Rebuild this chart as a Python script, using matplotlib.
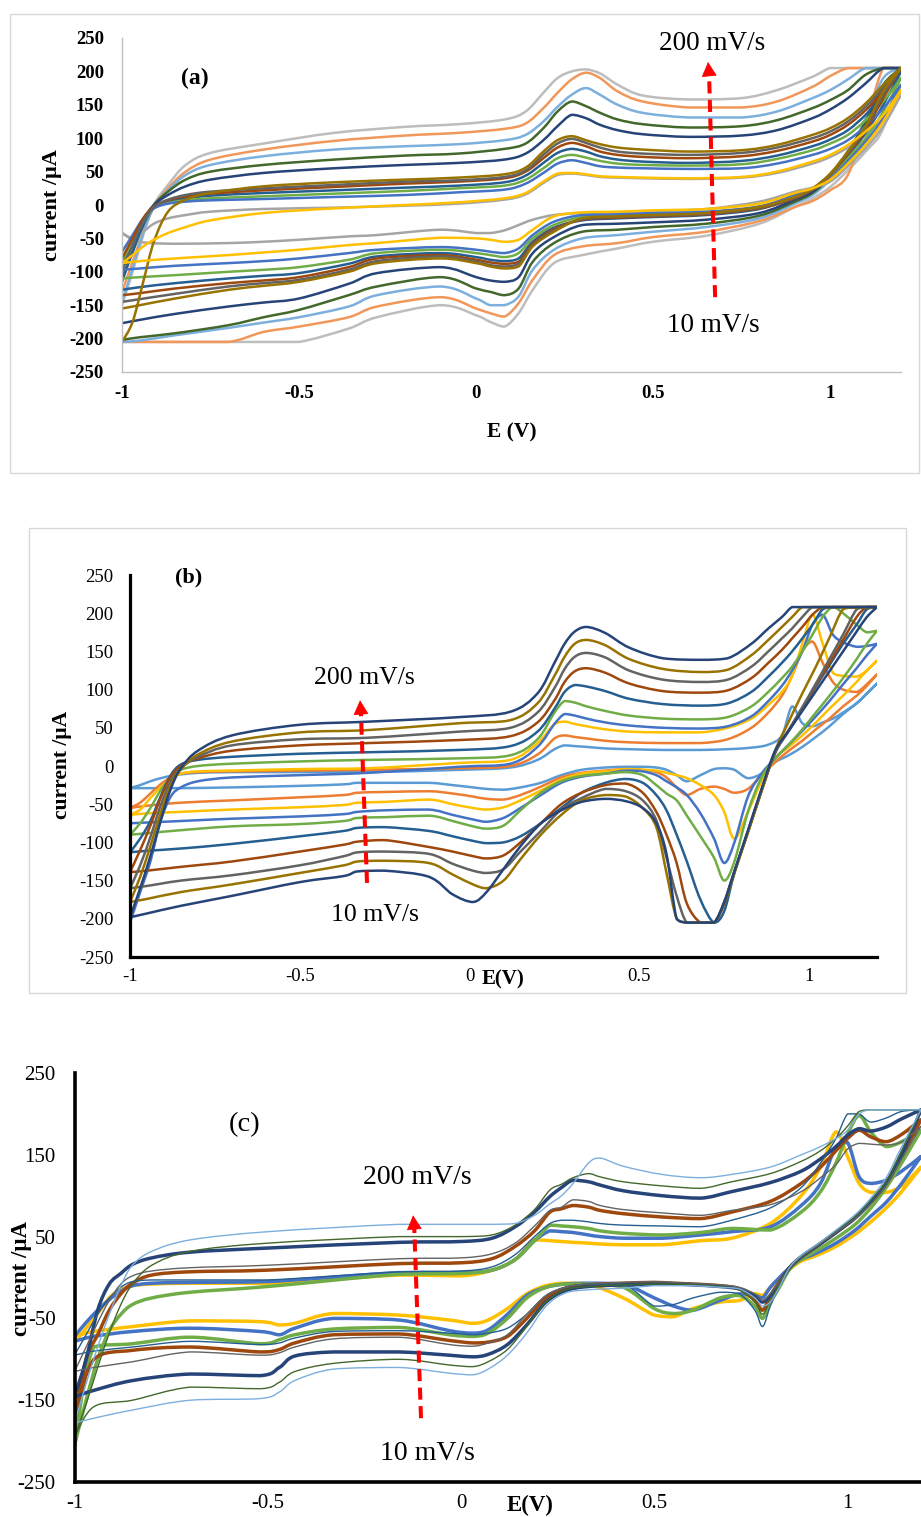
import numpy as np
import matplotlib
matplotlib.use('Agg')
from matplotlib import pyplot as plt
from matplotlib.patches import Rectangle, PathPatch
from matplotlib.path import Path

plt.rcParams['font.family'] = ['Liberation Serif', 'DejaVu Serif']

W, H = 921, 1517

# ---------------- panel (a): potential grids (V) and currents (uA) ----------------
a_e_fwd = [-1.0, -0.97, -0.94, -0.91, -0.87, -0.82, -0.75, -0.6, -0.4, -0.2, -0.05, 0.08, 0.14, 0.19, 0.23,
           0.27, 0.31, 0.35, 0.40, 0.47, 0.6, 0.75, 0.85, 0.95, 1.0, 1.05, 1.1, 1.15, 1.2]
a_e_rev = [1.2, 1.15, 1.1, 1.05, 1.0, 0.95, 0.9, 0.8, 0.65, 0.5, 0.4, 0.3, 0.22, 0.16, 0.12, 0.08, 0.04, 0.0,
           -0.1, -0.28, -0.36, -0.5, -0.6, -0.7, -0.85, -0.95, -1.0]

a_fwd_200 = [-150, -100, -45, 0, 30, 60, 78, 92, 108, 117, 121, 128, 140, 168, 190, 200, 203, 197, 180, 164, 158, 160, 172, 192, 205, 205, 205, 205, 205]
a_fwd_180 = [-130, -85, -40, -3, 25, 50, 68, 83, 96, 104, 108, 114, 122, 145, 168, 188, 198, 190, 170, 155, 146, 146, 155, 177, 193, 205, 205, 205, 205]
a_fwd_160 = [-145, -95, -42, -3, 22, 45, 60, 73, 83, 88, 91, 97, 105, 125, 147, 165, 175, 165, 150, 138, 131, 131, 140, 160, 172, 188, 205, 205, 205]
a_fwd_140 = [-110, -70, -30, 0, 20, 38, 50, 60, 68, 74, 77, 84, 92, 115, 140, 155, 148, 138, 128, 121, 116, 118, 127, 145, 157, 172, 195, 205, 205]
a_fwd_120 = [-90, -55, -22, 0, 15, 28, 38, 48, 55, 60, 63, 68, 77, 97, 118, 135, 130, 120, 112, 106, 102, 104, 112, 130, 143, 160, 182, 205, 205]
a_fwd_100 = [-205, -175, -115, -55, -10, 8, 18, 28, 34, 38, 41, 46, 56, 80, 97, 103, 97, 91, 86, 83, 80, 82, 90, 105, 115, 130, 152, 180, 205]
a_fwd_90 = [-100, -60, -25, -3, 8, 15, 20, 25, 30, 35, 37, 42, 52, 75, 92, 99, 93, 86, 80, 77, 75, 78, 86, 100, 110, 125, 147, 175, 205]
a_fwd_80 = [-80, -50, -20, -2, 7, 13, 17, 22, 27, 32, 35, 40, 50, 70, 86, 93, 88, 80, 75, 72, 70, 73, 81, 95, 105, 120, 142, 170, 205]
a_fwd_70 = [-115, -70, -30, -4, 5, 10, 14, 18, 22, 26, 29, 34, 44, 63, 78, 84, 80, 73, 68, 65, 63, 66, 74, 88, 98, 112, 135, 165, 200]
a_fwd_60 = [-85, -55, -25, -5, 3, 7, 10, 13, 17, 21, 25, 29, 38, 55, 70, 75, 71, 66, 62, 60, 59, 61, 69, 82, 92, 105, 127, 155, 190]
a_fwd_40 = [-70, -45, -20, -5, 2, 5, 7, 9, 12, 15, 19, 23, 32, 48, 62, 67, 63, 58, 56, 55, 54, 55, 62, 75, 84, 97, 118, 145, 180]
a_fwd_20 = [-87, -75, -62, -52, -42, -33, -23, -12, -5, 0, 4, 10, 18, 35, 47, 48, 46, 43, 42, 41, 40, 42, 50, 65, 75, 90, 110, 135, 172]
a_fwd_10 = [-42, -50, -40, -28, -20, -15, -10, -6, -4, -1, 2, 8, 16, 33, 45, 47, 45, 42, 41, 40, 39, 41, 48, 62, 72, 86, 105, 130, 165]

a_rev_200 = [205, 115, 80, 52, 27, 10, -3, -28, -46, -55, -65, -75, -87, -127, -162, -182, -175, -165, -150, -168, -185, -205, -205, -205, -205, -205, -205]
a_rev_180 = [205, 205, 120, 45, 22, 6, -3, -24, -40, -48, -57, -62, -75, -112, -147, -167, -162, -155, -138, -152, -168, -182, -190, -205, -205, -205, -205]
a_rev_160 = [205, 190, 130, 75, 38, 15, 2, -20, -33, -40, -45, -50, -67, -97, -137, -150, -150, -140, -122, -135, -152, -168, -176, -184, -195, -203, -205]
a_rev_140 = [205, 180, 125, 80, 42, 18, 5, -16, -28, -33, -37, -40, -57, -85, -125, -135, -130, -125, -108, -122, -135, -157, -168, -180, -192, -198, -202]
a_rev_120 = [205, 175, 120, 80, 45, 20, 8, -12, -22, -26, -28, -30, -48, -72, -108, -115, -113, -108, -93, -102, -118, -140, -146, -152, -163, -172, -177]
a_rev_100 = [205, 170, 118, 80, 47, 25, 12, -3, -12, -15, -17, -20, -40, -62, -92, -95, -92, -87, -80, -87, -100, -115, -121, -127, -140, -150, -155]
a_rev_90 = [205, 165, 115, 78, 46, 24, 11, -4, -13, -16, -18, -21, -38, -60, -88, -92, -90, -85, -77, -84, -97, -112, -117, -122, -133, -141, -145]
a_rev_80 = [205, 160, 112, 76, 45, 23, 10, -5, -14, -17, -19, -22, -36, -58, -85, -88, -86, -82, -75, -80, -93, -108, -113, -117, -125, -132, -135]
a_rev_70 = [200, 150, 108, 74, 44, 23, 12, -6, -15, -18, -20, -23, -34, -55, -80, -84, -82, -78, -72, -77, -88, -102, -106, -110, -117, -123, -127]
a_rev_60 = [190, 140, 100, 70, 42, 23, 13, -4, -12, -14, -16, -18, -30, -50, -72, -78, -75, -72, -67, -72, -82, -93, -97, -100, -105, -108, -110]
a_rev_40 = [180, 130, 95, 66, 40, 24, 15, -2, -10, -12, -14, -15, -25, -45, -65, -72, -70, -67, -63, -67, -72, -80, -84, -87, -91, -95, -97]
a_rev_20 = [172, 125, 90, 62, 38, 25, 18, 2, -6, -8, -10, -11, -17, -37, -52, -55, -52, -50, -49, -57, -60, -67, -71, -75, -80, -84, -87]
a_rev_10 = [165, 118, 85, 58, 35, 26, 20, 5, -6, -9, -11, -12, -15, -22, -30, -38, -42, -42, -37, -45, -47, -52, -55, -57, -58, -55, -42]

# ---------------- panel (b) ----------------
b_e_fwd = [-1.0, -0.97, -0.94, -0.91, -0.88, -0.85, -0.8, -0.7, -0.5, -0.3, -0.03, 0.12, 0.2, 0.25, 0.28, 0.31, 0.345,
           0.4, 0.47, 0.57, 0.68, 0.76, 0.83, 0.88, 0.92, 0.95, 0.98, 1.01, 1.04, 1.07, 1.1, 1.14, 1.17, 1.2]
b_e_rev = [1.2, 1.17, 1.14, 1.1, 1.06, 1.02, 0.98, 0.94, 0.9, 0.86, 0.82, 0.78, 0.75, 0.72, 0.68, 0.64, 0.61, 0.58,
           0.55, 0.51, 0.46, 0.4, 0.33, 0.27, 0.21, 0.15, 0.1, 0.05, 0.01, -0.05, -0.12, -0.25, -0.33, -0.37, -0.5,
           -0.7, -0.85, -0.95, -1.0]

b_fwd_200 = [-198, -160, -118, -72, -30, -3, 20, 40, 54, 58, 64, 71, 95, 135, 160, 176, 182, 174, 155, 141, 139, 141, 160, 180, 195, 208, 208, 208, 208, 208, 208, 208, 208, 208]
b_fwd_180 = [-178, -145, -105, -62, -25, -4, 15, 32, 44, 47, 56, 60, 82, 118, 143, 160, 165, 158, 140, 127, 123, 126, 145, 165, 182, 195, 208, 208, 208, 208, 208, 208, 208, 208]
b_fwd_160 = [-160, -130, -93, -52, -20, -3, 12, 27, 35, 37, 45, 50, 70, 102, 127, 143, 148, 142, 125, 113, 110, 113, 130, 150, 167, 180, 195, 208, 208, 208, 208, 208, 208, 208]
b_fwd_140 = [-139, -110, -78, -42, -14, 0, 10, 20, 27, 30, 34, 39, 57, 86, 110, 124, 128, 122, 108, 98, 96, 99, 115, 135, 152, 167, 182, 198, 208, 208, 208, 208, 208, 208]
b_fwd_120 = [-113, -95, -72, -40, -12, 2, 8, 12, 16, 18, 21, 26, 45, 75, 97, 106, 104, 98, 88, 81, 79, 82, 97, 117, 135, 150, 167, 185, 205, 208, 208, 208, 208, 208]
b_fwd_100 = [-90, -75, -55, -32, -15, -5, 0, 3, 6, 8, 10, 14, 35, 70, 85, 83, 78, 72, 66, 62, 61, 64, 78, 97, 115, 130, 150, 172, 195, 208, 200, 185, 175, 177]
b_fwd_80 = [-205, -165, -125, -72, -40, -28, -20, -15, -12, -9, -1, 3, 25, 55, 68, 66, 62, 57, 53, 50, 49, 52, 65, 85, 105, 125, 150, 185, 198, 172, 162, 156, 157, 160]
b_fwd_60 = [-64, -57, -42, -28, -17, -10, -7, -6, -4, -3, 4, 8, 30, 55, 58, 55, 52, 48, 45, 44, 44, 50, 62, 80, 97, 118, 160, 198, 160, 122, 118, 117, 125, 138]
b_fwd_40 = [-55, -48, -36, -24, -15, -10, -8, -7, -6, -5, -3, 0, 15, 36, 40, 38, 36, 33, 31, 30, 30, 35, 50, 70, 92, 118, 150, 163, 135, 110, 100, 97, 107, 120]
b_fwd_20 = [-29, -25, -20, -16, -13, -11, -9, -8, -8, -8, -5, -2, 8, 22, 27, 26, 25, 23, 22, 21, 21, 22, 24, 28, 40, 78, 56, 52, 57, 62, 70, 82, 95, 108]

b_rev_200 = [208, 195, 176, 150, 124, 98, 72, 46, 20, -30, -84, -138, -178, -205, -205, -205, -200, -115, -75, -55, -46, -43, -47, -58, -75, -105, -135, -165, -178, -168, -145, -137, -138, -144, -152, -170, -183, -193, -198]
b_rev_180 = [208, 208, 208, 205, 168, 130, 95, 58, 20, -33, -87, -140, -180, -205, -205, -205, -200, -140, -80, -55, -40, -38, -45, -64, -90, -122, -150, -160, -155, -142, -127, -124, -125, -130, -140, -155, -165, -174, -178]
b_rev_160 = [208, 208, 205, 172, 140, 108, 77, 47, 18, -32, -86, -138, -178, -205, -205, -205, -170, -120, -71, -45, -33, -30, -42, -57, -85, -112, -135, -140, -137, -128, -115, -112, -113, -118, -130, -143, -150, -157, -160]
b_rev_140 = [208, 208, 195, 165, 135, 106, 76, 47, 18, -32, -86, -138, -180, -205, -205, -180, -127, -90, -60, -35, -23, -25, -35, -50, -75, -100, -117, -121, -118, -112, -106, -97, -99, -103, -112, -125, -132, -137, -139]
b_rev_120 = [208, 205, 185, 160, 132, 104, 75, 46, 17, -32, -86, -140, -190, -205, -175, -125, -90, -58, -38, -22, -17, -22, -35, -55, -75, -92, -100, -101, -98, -92, -85, -80, -81, -85, -92, -102, -108, -111, -113]
b_rev_100 = [177, 160, 140, 115, 92, 70, 48, 28, 10, -15, -60, -125, -150, -120, -92, -65, -45, -36, -25, -12, -8, -10, -13, -20, -35, -58, -78, -82, -79, -72, -65, -67, -68, -72, -76, -79, -84, -88, -90]
b_rev_80 = [160, 145, 128, 107, 85, 65, 46, 28, 10, -10, -40, -100, -127, -95, -62, -38, -28, -20, -12, -7, -6, -10, -14, -22, -38, -55, -68, -73, -70, -64, -57, -58, -60, -63, -66, -69, -72, -74, -75]
b_rev_60 = [138, 125, 110, 92, 75, 57, 40, 25, 10, -20, -60, -95, -60, -38, -25, -16, -12, -9, -6, -5, -4, -7, -10, -18, -32, -45, -54, -57, -55, -50, -44, -47, -48, -51, -54, -57, -60, -62, -64]
b_rev_40 = [120, 105, 92, 78, 62, 48, 33, 20, 5, -12, -30, -35, -30, -27, -30, -38, -28, -15, -8, -5, -4, -6, -9, -15, -27, -38, -44, -43, -40, -36, -33, -34, -35, -38, -41, -45, -48, -52, -55]
b_rev_20 = [108, 95, 82, 68, 52, 38, 25, 14, 5, -10, -16, -5, -3, -4, -12, -20, -12, -5, -2, -1, -1, -2, -5, -12, -22, -28, -31, -30, -28, -25, -22, -22, -22, -24, -26, -28, -29, -29, -29]

# ---------------- panel (c) ----------------
c_e_fwd = [-1.0, -0.97, -0.94, -0.91, -0.88, -0.85, -0.8, -0.7, -0.5, -0.16, 0.0, 0.08, 0.14, 0.19, 0.23, 0.26,
           0.29, 0.33, 0.36, 0.42, 0.52, 0.62, 0.7, 0.8, 0.88, 0.93, 0.97, 1.0, 1.03, 1.06, 1.1, 1.14, 1.19]
c_e_rev = [1.19, 1.14, 1.1, 1.06, 1.02, 0.97, 0.92, 0.88, 0.85, 0.82, 0.8, 0.78, 0.76, 0.72, 0.67, 0.6, 0.55, 0.5,
           0.42, 0.33, 0.27, 0.22, 0.17, 0.12, 0.07, 0.03, -0.03, -0.16, -0.33, -0.43, -0.47, -0.52, -0.7, -0.85,
           -0.95, -1.0]

c_fwd_lb = [-178, -130, -85, -45, -10, 15, 32, 46, 56, 65, 65, 65, 66, 76, 90, 100, 115, 140, 146, 136, 126, 122, 126, 135, 150, 160, 170, 180, 200, 205, 205, 205, 205]
c_fwd_dg = [-195, -155, -110, -68, -33, -8, 15, 32, 42, 50, 50, 52, 64, 83, 107, 114, 122, 127, 123, 117, 112, 109, 117, 127, 142, 155, 170, 185, 203, 205, 205, 205, 205]
c_fwd_db = [-146, -100, -40, -8, 5, 16, 24, 31, 36, 43, 44, 48, 62, 80, 99, 110, 119, 117, 113, 106, 100, 97, 105, 116, 130, 145, 160, 174, 182, 179, 184, 194, 205]
c_fwd_gy = [-115, -85, -55, -28, -8, 2, 8, 12, 15, 23, 24, 29, 42, 63, 82, 86, 95, 93, 88, 83, 79, 76, 82, 89, 105, 122, 138, 157, 164, 163, 162, 166, 185]
c_fwd_br = [-174, -100, -70, -40, -20, -7, 3, 7, 9, 17, 18, 23, 38, 57, 80, 84, 88, 86, 82, 78, 74, 72, 80, 93, 115, 135, 155, 170, 180, 172, 166, 175, 193]
c_fwd_sb = [-95, -70, -45, -25, -12, -5, -3, -3, -3, 7, 8, 13, 28, 50, 66, 70, 70, 68, 66, 64, 63, 62, 70, 85, 110, 140, 170, 200, 200, 190, 195, 203, 205]
c_fwd_gr = [-205, -150, -100, -65, -45, -33, -25, -18, -11, 4, 5, 9, 22, 45, 64, 63, 62, 60, 57, 54, 52, 55, 60, 58, 80, 105, 140, 175, 198, 178, 160, 166, 180]
c_fwd_bl = [-72, -55, -40, -27, -17, -10, -7, -6, -5, 6, 6, 9, 22, 45, 57, 56, 55, 52, 50, 48, 48, 52, 56, 62, 88, 115, 160, 165, 123, 115, 119, 130, 148]
c_fwd_ye = [-79, -62, -44, -25, -15, -10, -8, -7, -7, 3, 2, 9, 22, 46, 45, 44, 43, 42, 41, 40, 40, 45, 48, 66, 100, 135, 178, 148, 115, 104, 104, 112, 135]

c_rev_lb = [205, 160, 122, 97, 77, 58, 40, 27, 12, -15, -30, -35, -25, -14, -12, -10, -10, -10, -13, -15, -19, -35, -68, -95, -112, -119, -117, -110, -112, -126, -140, -148, -150, -162, -172, -178]
c_rev_dg = [205, 155, 118, 95, 75, 57, 40, 27, 13, -12, -28, -45, -30, -15, -11, -9, -8, -8, -9, -11, -15, -30, -60, -88, -103, -109, -107, -100, -105, -115, -128, -136, -134, -150, -158, -195]
c_rev_db = [205, 150, 115, 92, 73, 55, 38, 25, 12, -10, -22, -30, -22, -14, -11, -9, -8, -8, -9, -11, -16, -30, -58, -82, -94, -97, -95, -91, -91, -96, -110, -120, -118, -126, -138, -146]
c_rev_gy = [185, 145, 113, 90, 72, 55, 38, 25, 12, -8, -20, -28, -20, -12, -9, -7, -6, -5, -6, -8, -12, -22, -45, -70, -80, -84, -82, -73, -75, -85, -92, -95, -91, -103, -110, -115]
c_rev_br = [193, 148, 115, 92, 73, 55, 38, 25, 12, -8, -22, -40, -28, -14, -10, -8, -7, -6, -7, -9, -13, -25, -50, -72, -79, -80, -77, -69, -70, -80, -88, -91, -85, -89, -100, -174]
c_rev_sb = [205, 155, 118, 94, 74, 56, 39, 26, 12, -15, -35, -60, -40, -20, -18, -25, -33, -35, -8, -8, -12, -22, -45, -62, -68, -70, -68, -65, -66, -74, -80, -82, -78, -85, -90, -95]
c_rev_gr = [180, 140, 110, 85, 65, 48, 33, 22, 10, -15, -30, -50, -35, -22, -25, -40, -44, -38, -12, -8, -8, -12, -25, -50, -68, -72, -70, -61, -63, -70, -76, -81, -73, -81, -85, -205]
c_rev_bl = [148, 115, 92, 75, 58, 42, 30, 22, 12, -2, -12, -25, -22, -20, -28, -40, -35, -25, -8, -7, -8, -12, -22, -45, -64, -68, -65, -52, -50, -62, -70, -66, -62, -66, -72, -78]
c_rev_ye = [135, 105, 85, 68, 53, 38, 27, 20, 10, -3, -12, -22, -20, -28, -30, -38, -48, -46, -25, -8, -7, -10, -20, -38, -52, -56, -52, -46, -44, -56, -58, -54, -53, -60, -66, -72]

y_ticks_ab = [-250, -200, -150, -100, -50, 0, 50, 100, 150, 200, 250]
y_ticks_c = [-250, -150, -50, 50, 150, 250]
x_ticks = [-1, -0.5, 0, 0.5, 1]
x_tick_labels = ['-1', '-0.5', '0', '0.5', '1']

# series: (forward, reverse, colour[, linewidth])
a_series = [
    (a_fwd_200, a_rev_200, '#BDBDBD'), (a_fwd_180, a_rev_180, '#F1975A'),
    (a_fwd_160, a_rev_160, '#7CAFDD'), (a_fwd_140, a_rev_140, '#43682B'),
    (a_fwd_120, a_rev_120, '#264478'), (a_fwd_10, a_rev_10, '#A5A5A5'),
    (a_fwd_70, a_rev_70, '#255E91'), (a_fwd_60, a_rev_60, '#70AD47'),
    (a_fwd_40, a_rev_40, '#4472C4'), (a_fwd_80, a_rev_80, '#9E480E'),
    (a_fwd_90, a_rev_90, '#636363'), (a_fwd_100, a_rev_100, '#997300'),
    (a_fwd_20, a_rev_20, '#FFC000'),
]
b_series = [
    (b_fwd_20, b_rev_20, '#5B9BD5'), (b_fwd_40, b_rev_40, '#ED7D31'),
    (b_fwd_60, b_rev_60, '#FFC000'), (b_fwd_80, b_rev_80, '#4472C4'),
    (b_fwd_100, b_rev_100, '#70AD47'), (b_fwd_120, b_rev_120, '#255E91'),
    (b_fwd_140, b_rev_140, '#9E480E'), (b_fwd_160, b_rev_160, '#636363'),
    (b_fwd_180, b_rev_180, '#997300'), (b_fwd_200, b_rev_200, '#264478'),
]
c_series = [
    (c_fwd_ye, c_rev_ye, '#FFC000', 2.5), (c_fwd_bl, c_rev_bl, '#4472C4', 2.5),
    (c_fwd_gr, c_rev_gr, '#70AD47', 2.5), (c_fwd_br, c_rev_br, '#9E480E', 2.5),
    (c_fwd_db, c_rev_db, '#264478', 2.5), (c_fwd_sb, c_rev_sb, '#255E91', 1.0),
    (c_fwd_gy, c_rev_gy, '#636363', 1.0), (c_fwd_dg, c_rev_dg, '#43682B', 1.0),
    (c_fwd_lb, c_rev_lb, '#7CAFDD', 1.0),
]


def fx(px):
    return px / W


def fy(py):
    return 1 - py / H


def add_panel(left, top, right, bottom):
    return fig.add_axes([fx(left), fy(bottom), (right - left) / W, (bottom - top) / H])


def smooth_path(x, y):
    # spreadsheet-style smoothed line: cubic Bezier through every point,
    # handles kept inside each segment's box so peaks do not overshoot
    p = np.column_stack([x, y]).astype(float)
    n = len(p)
    verts = [p[0]]
    codes = [Path.MOVETO]
    for k in range(n - 1):
        p0 = p[k - 1] if k > 0 else p[k]
        p1, p2 = p[k], p[k + 1]
        p3 = p[k + 2] if k + 2 < n else p[k + 1]
        lo, hi = np.minimum(p1, p2), np.maximum(p1, p2)
        c1 = np.clip(p1 + (p2 - p0) / 6, lo, hi)
        c2 = np.clip(p2 - (p3 - p1) / 6, lo, hi)
        verts += [c1, c2, p2]
        codes += [Path.CURVE4] * 3
    return Path(verts, codes)


def cv(ax, e_fwd, e_rev, i_fwd, i_rev, color, lw):
    e = np.r_[e_fwd, e_rev]
    i = np.r_[i_fwd, i_rev]
    ax.add_patch(PathPatch(smooth_path(e, i), facecolor='none', edgecolor=color, lw=lw,
                           capstyle='round', joinstyle='round'))


def style(ax, xmax, yticks, spine_color, spine_lw, size, weight, xpad, ypad):
    ax.set_xlim(-1, xmax)
    ax.set_ylim(-250, 250)
    for s in ('top', 'right'):
        ax.spines[s].set_visible(False)
    for s in ('left', 'bottom'):
        ax.spines[s].set_color(spine_color)
        ax.spines[s].set_linewidth(spine_lw)
    ax.set_xticks(x_ticks)
    ax.set_xticklabels(x_tick_labels, fontsize=size, fontweight=weight)
    ax.set_yticks(yticks)
    ax.set_yticklabels([str(v) for v in yticks], fontsize=size, fontweight=weight)
    ax.tick_params(axis='x', length=0, pad=xpad)
    ax.tick_params(axis='y', length=0, pad=ypad)
    ax.patch.set_alpha(0)


def scan_arrow(ax, tail, base, tip):
    ax.plot([tail[0], base[0]], [tail[1], base[1]], color='#FF0000', lw=2.9,
            dashes=(3, 1.6), solid_capstyle='butt')
    ax.annotate('', xy=tip, xytext=base,
                arrowprops=dict(arrowstyle='-|>,head_length=0.95,head_width=0.5',
                                mutation_scale=10, color='#FF0000', lw=0.5,
                                shrinkA=0, shrinkB=0))


fig = plt.figure(figsize=(W / 100, H / 100), dpi=100)

# frames around (a) and (b)
for x0, y0, x1, y1 in [(10, 14, 919, 473), (29, 528, 906, 993)]:
    fig.add_artist(Rectangle((fx(x0), fy(y1)), (x1 - x0) / W, (y1 - y0) / H,
                             transform=fig.transFigure, fill=False,
                             edgecolor='#D9D9D9', lw=1.0))

# ---- (a) ----
ax_a = add_panel(122, 38, 901, 372)
for fwd, rev, col in a_series:
    cv(ax_a, a_e_fwd, a_e_rev, fwd, rev, col, 1.8)
style(ax_a, 1.2, y_ticks_ab, '#BFBFBF', 1.0, 13.5, 'bold', 9, 13)
scan_arrow(ax_a, (0.675, -138), (0.658, 196), (0.655, 214))
fig.text(fx(195), fy(78), '(a)', fontsize=17, fontweight='bold', ha='center', va='center')
fig.text(fx(52), fy(205), 'current /μA', fontsize=16, fontweight='bold', rotation=90,
         ha='center', va='center')
fig.text(fx(512), fy(432), 'E (V)', fontsize=15.5, fontweight='bold', ha='center', va='center')
fig.text(fx(712), fy(43), '200 mV/s', fontsize=19.5, ha='center', va='center')
fig.text(fx(713), fy(325), '10 mV/s', fontsize=19.5, ha='center', va='center')

# ---- (b) ----
ax_b = add_panel(130, 575, 877, 957)
for fwd, rev, col in b_series:
    cv(ax_b, b_e_fwd, b_e_rev, fwd, rev, col, 1.8)
style(ax_b, 1.2, y_ticks_ab, 'black', 2.3, 13.5, 'normal', 8, 12)
scan_arrow(ax_b, (-0.302, -153), (-0.320, 70), (-0.3225, 86))
fig.text(fx(189), fy(577), '(b)', fontsize=16, fontweight='bold', ha='center', va='center')
fig.text(fx(62), fy(765), 'current /μA', fontsize=15.5, fontweight='bold', rotation=90,
         ha='center', va='center')
fig.text(fx(503), fy(979), 'E(V)', fontsize=15, fontweight='bold', ha='center', va='center')
fig.text(fx(364), fy(678), '200 mV/s', fontsize=18.5, ha='center', va='center')
fig.text(fx(375), fy(915), '10 mV/s', fontsize=18.5, ha='center', va='center')

# ---- (c) ----
ax_c = add_panel(74.5, 1073, 921, 1482)
for fwd, rev, col, lw in c_series:
    cv(ax_c, c_e_fwd, c_e_rev, fwd, rev, col, lw)
style(ax_c, 1.19, y_ticks_c, 'black', 2.6, 15, 'normal', 9, 13.5)
scan_arrow(ax_c, (-0.1035, -172), (-0.121, 60), (-0.124, 76))
fig.text(fx(245), fy(1125), '(c)', fontsize=20.5, ha='center', va='center')
fig.text(fx(21), fy(1278), 'current /μA', fontsize=16.5, fontweight='bold', rotation=90,
         ha='center', va='center')
fig.text(fx(530), fy(1505), 'E(V)', fontsize=16.5, fontweight='bold', ha='center', va='center')
fig.text(fx(417), fy(1178), '200 mV/s', fontsize=20, ha='center', va='center')
fig.text(fx(427), fy(1453), '10 mV/s', fontsize=20, ha='center', va='center')

fig.savefig('out.png', dpi=100)
